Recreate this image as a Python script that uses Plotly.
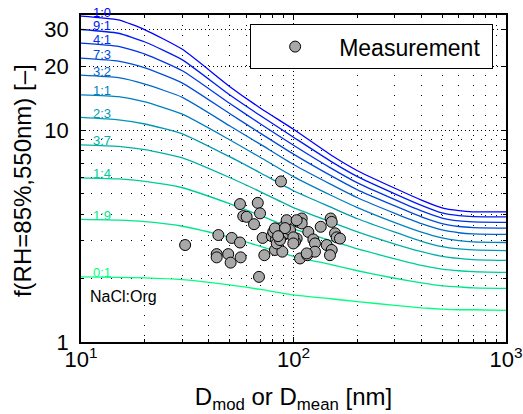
import numpy as np
import plotly.graph_objects as go

# ---------------- data ----------------
diam_nm = [10, 15, 20, 30, 50, 70, 100, 150, 200, 300, 400, 500, 600, 700, 1000]
ratio_labels = ["1:0", "9:1", "4:1", "7:3", "3:2", "1:1", "2:3", "3:7", "1:4", "1:9", "0:1"]

f_1_0 = [34.6, 33.2, 29.8, 24.1, 16.1, 12.7, 10.1, 7.64, 6.44, 5.32, 4.68, 4.30, 4.17, 4.12, 4.12]
f_9_1 = [29.9, 28.7, 26.1, 21.5, 14.7, 11.7, 9.27, 7.13, 6.04, 5.01, 4.42, 4.07, 3.95, 3.91, 3.90]
f_4_1 = [25.8, 24.9, 22.9, 19.1, 13.4, 10.7, 8.49, 6.62, 5.64, 4.70, 4.16, 3.85, 3.73, 3.69, 3.67]
f_7_3 = [21.9, 21.2, 19.7, 16.7, 12.0, 9.66, 7.71, 6.10, 5.23, 4.39, 3.90, 3.62, 3.51, 3.47, 3.45]
f_3_2 = [18.2, 17.7, 16.5, 14.3, 10.5, 8.57, 6.89, 5.55, 4.80, 4.05, 3.62, 3.38, 3.28, 3.24, 3.22]
f_1_1 = [14.7, 14.4, 13.6, 11.9, 9.02, 7.43, 6.04, 4.93, 4.31, 3.66, 3.30, 3.10, 3.01, 2.97, 2.95]
f_2_3 = [11.5, 11.2, 10.7, 9.62, 7.50, 6.28, 5.18, 4.33, 3.82, 3.30, 2.99, 2.82, 2.75, 2.72, 2.70]
f_3_7 = [8.53, 8.39, 8.09, 7.40, 5.98, 5.12, 4.31, 3.69, 3.31, 2.90, 2.67, 2.54, 2.48, 2.45, 2.43]
f_1_4 = [5.96, 5.89, 5.73, 5.35, 4.50, 3.95, 3.42, 3.01, 2.75, 2.47, 2.30, 2.21, 2.17, 2.15, 2.13]
f_1_9 = [3.79, 3.76, 3.70, 3.52, 3.12, 2.83, 2.54, 2.32, 2.17, 2.00, 1.90, 1.84, 1.82, 1.80, 1.79]
f_0_1 = [2.03, 2.02, 2.01, 1.97, 1.86, 1.77, 1.67, 1.60, 1.55, 1.49, 1.45, 1.43, 1.42, 1.42, 1.41]

curves = [f_1_0, f_9_1, f_4_1, f_7_3, f_3_2, f_1_1, f_2_3, f_3_7, f_1_4, f_1_9, f_0_1]

meas_d = [30.9, 87.3, 56.0, 67.9, 69.6, 58.0, 60.2, 65.2, 44.3, 51.2,
          56.0, 43.5, 43.5, 49.3, 50.6, 56.4, 72.9, 68.8, 71.6, 79.0,
          82.7, 81.8, 88.6, 80.3, 86.4, 89.5, 92.9, 89.5, 94.5, 103.5,
          101.6, 109.3, 105.3, 109.3, 117.4, 124.0, 126.2, 107.3, 116.1, 126.2,
          134.3, 149.6, 151.3, 156.8, 159.7, 165.5, 143.3, 151.3, 148.5, 96.3,
          99.8, 103.5, 81.8, 83.4, 99.8, 86.4, 91.2, 84.6, 115.4]
meas_f = [2.87, 5.73, 4.48, 4.54, 4.05, 3.93, 3.90, 3.60, 3.20, 3.10,
          2.95, 2.60, 2.51, 2.60, 2.37, 2.51, 2.57, 2.03, 3.10, 3.16,
          3.05, 2.72, 2.67, 3.31, 3.38, 3.50, 3.76, 3.20, 3.26, 3.08,
          2.97, 3.83, 3.69, 3.63, 3.31, 3.05, 2.92, 2.48, 2.57, 2.67,
          3.50, 3.83, 3.69, 3.26, 3.12, 3.08, 2.87, 2.72, 2.57, 3.38,
          3.12, 3.76, 3.44, 2.92, 2.92, 3.03, 3.45, 3.16, 2.62]

x_ticks = [10, 100, 1000]
x_ticktext = ["10<sup>1</sup>", "10<sup>2</sup>", "10<sup>3</sup>"]
y_ticks = [1, 10, 20, 30]
y_ticktext = ["1", "10", "20", "30"]

# ---------------- figure ----------------
FONT = "Liberation Sans, Arial, sans-serif"
n = len(curves)
fig = go.Figure()

def winter(t):
    return "rgb(0,%d,%d)" % (round(255 * t), round(255 * (1 - 0.5 * t)))

for i, (lab, vals) in enumerate(zip(ratio_labels, curves)):
    col = winter(i / (n - 1))
    fig.add_trace(go.Scatter(x=diam_nm, y=vals, mode="lines",
                             line=dict(color=col, width=1.3, shape="spline", smoothing=0.5),
                             showlegend=False, hoverinfo="skip"))
    fig.add_annotation(x=np.log10(12.6), y=np.log10(vals[0]), text=lab, showarrow=False,
                       xanchor="center", yanchor="middle", yshift=4,
                       font=dict(family=FONT, size=13, color=col))

fig.add_trace(go.Scatter(x=meas_d, y=meas_f, mode="markers", name="Measurement\u00a0",
                         marker=dict(size=11, color="#a8a8a8", line=dict(color="black", width=1))))

fig.add_annotation(x=np.log10(10.8), y=np.log10(1.636), text="NaCl:Org", showarrow=False,
                   xanchor="left", yanchor="middle", font=dict(family=FONT, size=16, color="black"))

# y-axis title placed as rotated text left of the tick labels
fig.add_annotation(xref="paper", yref="paper", x=-0.139, y=0.495, text="f(RH=85%,550nm) [\u2013]",
                   textangle=-90, showarrow=False, xanchor="center", yanchor="middle",
                   font=dict(family=FONT, size=24, color="black"))

x_minor = [v * m for m in (10, 100) for v in range(2, 10)]
y_minor = [2, 3, 4, 5, 6, 7, 8, 9]

axis_common = dict(showline=True, linecolor="black", linewidth=1.5, mirror="allticks",
                   ticks="inside", ticklen=5, tickcolor="black", automargin=False,
                   showgrid=True, gridcolor="black", gridwidth=1, griddash="1px,3px",
                   tickfont=dict(family=FONT, size=22, color="black"), zeroline=False)

fig.update_xaxes(type="log", range=[1, 3], tickmode="array", tickvals=x_ticks, ticktext=x_ticktext,
                 minor=dict(tickvals=x_minor, ticks="inside", ticklen=3, tickcolor="black",
                            showgrid=True, gridcolor="black", gridwidth=1, griddash="1px,9px"),
                 title=dict(text="D<sub>mod</sub> or D<sub>mean</sub> [nm]",
                            font=dict(family=FONT, size=24, color="black"), standoff=18),
                 ticklabelstandoff=-3,
                 **axis_common)
fig.update_yaxes(type="log", range=[0, np.log10(35)], tickmode="array", tickvals=y_ticks, ticktext=y_ticktext,
                 minor=dict(tickvals=y_minor, ticks="inside", ticklen=3, tickcolor="black",
                            showgrid=True, gridcolor="black", gridwidth=1, griddash="1px,9px"),
                 ticklabelstandoff=6,
                 **axis_common)

fig.update_layout(width=523, height=414, margin=dict(l=81, r=17, t=15, b=72),
                  plot_bgcolor="white", paper_bgcolor="white",
                  legend=dict(x=0.398, y=0.972, xanchor="left", yanchor="top", bgcolor="white",
                              bordercolor="black", borderwidth=1, itemwidth=78,
                              font=dict(family=FONT, size=23, color="black")),
                  font=dict(family=FONT, color="black"))

fig.write_html("out.html", config={"displayModeBar": False},
               post_script="document.body.style.margin='0px';document.body.style.padding='0px';")
